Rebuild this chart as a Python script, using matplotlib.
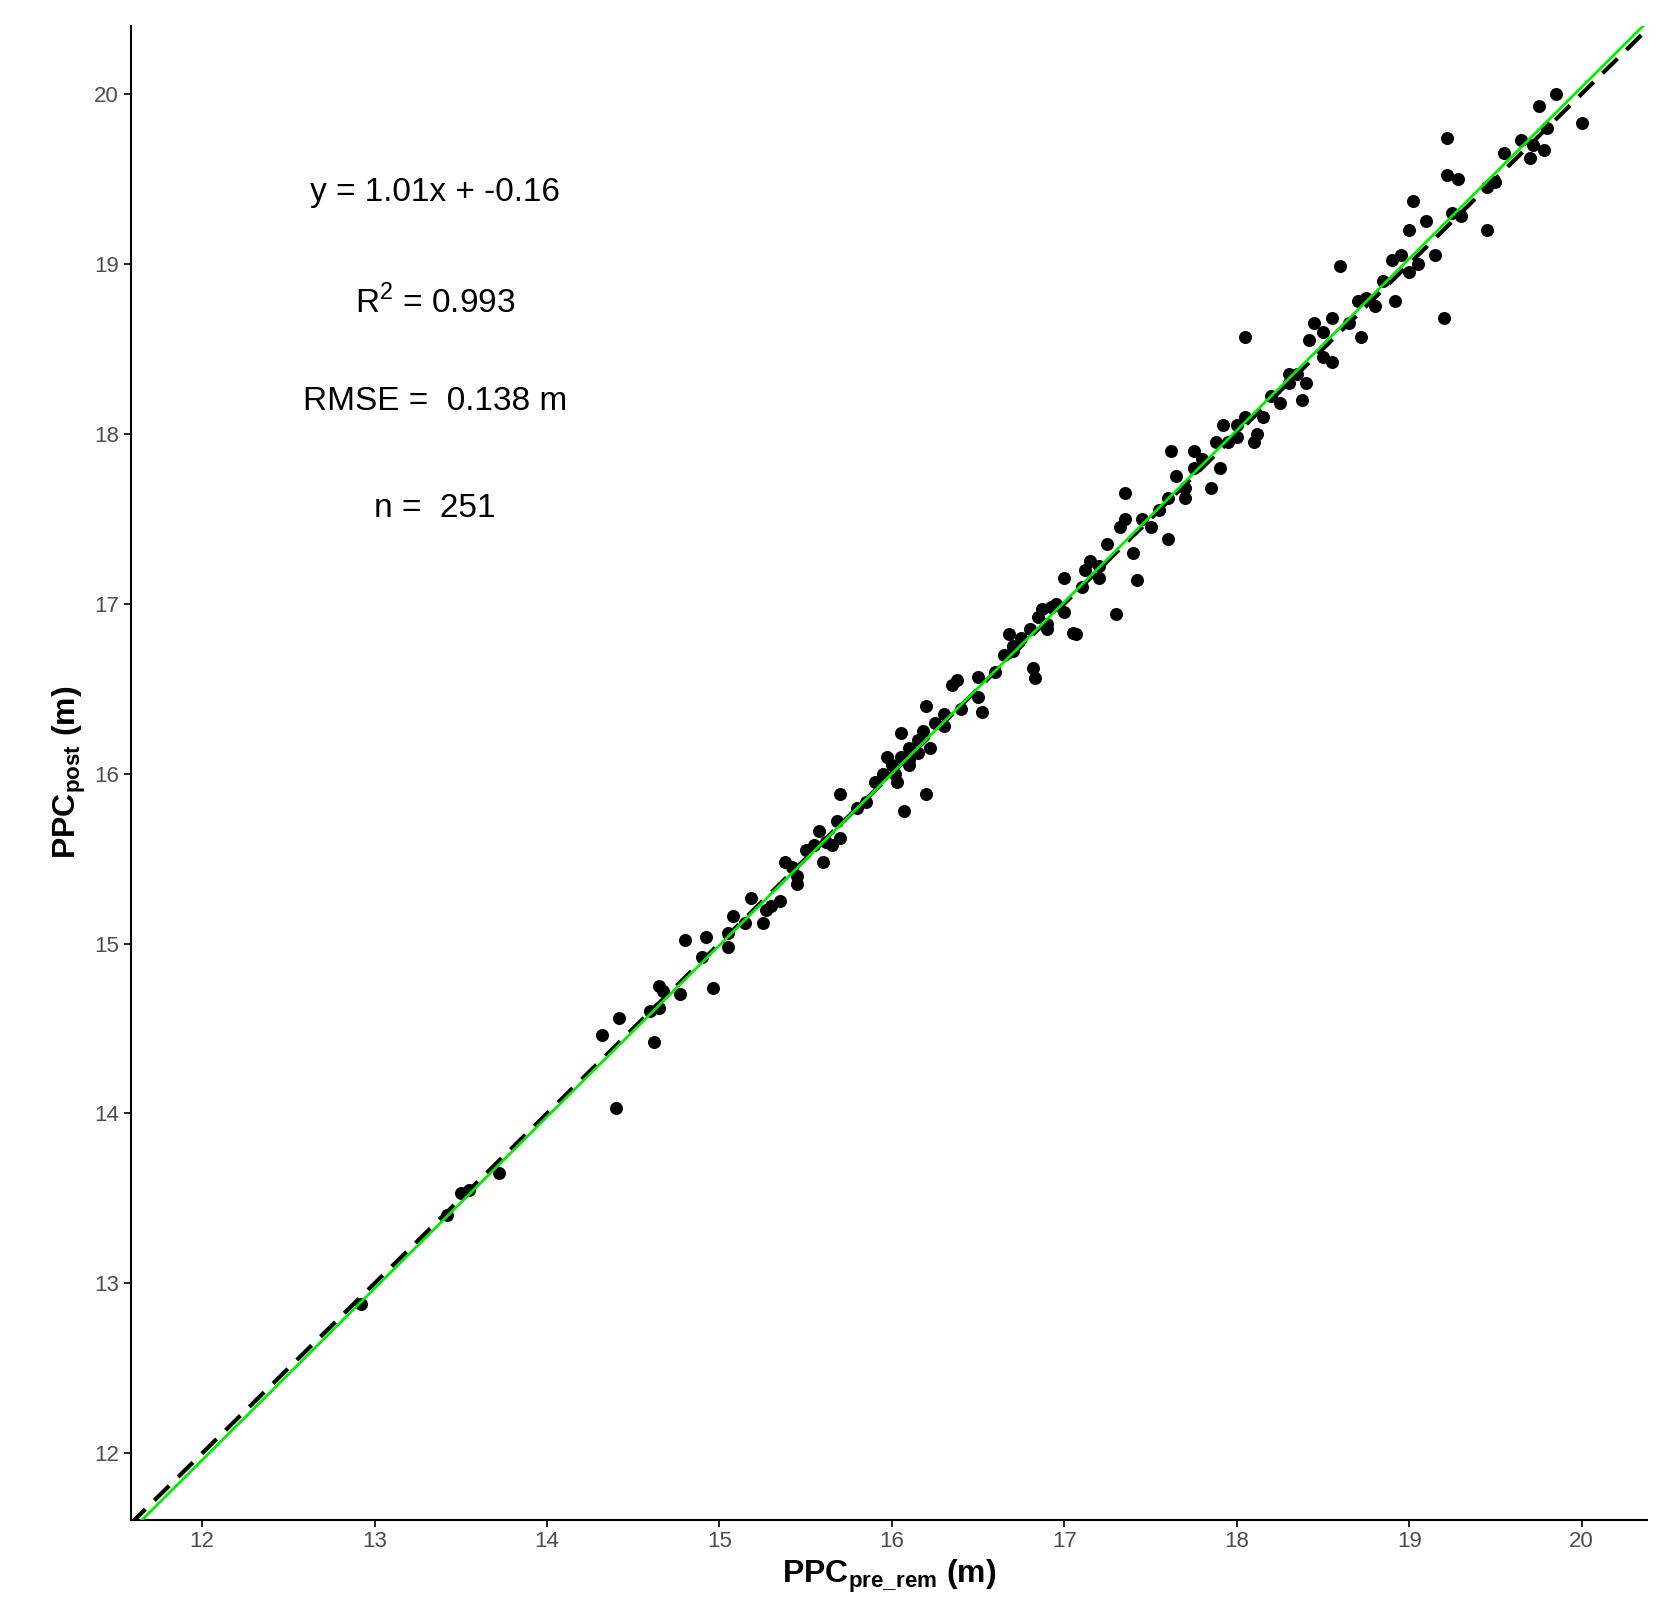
import matplotlib
matplotlib.use("Agg")
import matplotlib.pyplot as plt
import numpy as np

plt.rcParams['font.family'] = ['Liberation Sans', 'DejaVu Sans']
plt.rcParams['mathtext.fontset'] = 'custom'
plt.rcParams['mathtext.rm'] = 'Liberation Sans'
plt.rcParams['mathtext.bf'] = 'Liberation Sans:bold'

x_vals = [12.92,13.42,13.5,13.55,13.72,14.32,14.42,14.4,14.6,14.65,14.62,14.65,14.67,14.77,14.8,14.9,14.92,14.96,15.05,15.05,15.08,15.15,15.18,15.25,15.27,15.3,15.35,15.38,15.42,15.45,15.45,15.5,15.55,15.58,15.6,15.62,15.65,15.68,15.7,15.7,15.8,15.9,15.95,15.97,16.0,16.02,16.03,16.05,16.05,16.07,16.1,16.1,16.15,16.15,16.18,16.2,16.2,16.22,16.25,16.3,16.35,16.38,16.4,16.5,16.5,16.52,16.6,16.65,16.68,16.7,16.75,16.8,16.82,16.83,16.85,16.87,16.9,16.92,16.95,17.0,17.0,17.05,17.07,17.1,17.12,17.15,17.2,17.25,17.3,17.32,17.35,17.35,17.4,17.42,17.45,17.5,17.55,17.6,17.62,17.65,17.7,17.7,17.75,17.75,17.8,17.85,17.88,17.9,17.92,17.95,18.0,18.05,18.05,18.1,18.12,18.15,18.2,18.25,18.3,18.35,18.38,18.4,18.42,18.45,18.5,18.55,18.55,18.6,18.65,18.7,18.72,18.75,18.8,18.85,18.9,18.92,18.95,19.0,19.02,19.05,19.1,19.15,19.2,19.22,19.22,19.25,19.28,19.3,19.45,19.5,19.55,19.65,19.7,19.72,19.75,19.8,19.85,20.0,19.78,19.45,19.0,18.5,18.3,18.0,17.6,17.2,16.9,16.7,16.3,16.1,15.85]
y_vals = [12.88,13.40,13.53,13.55,13.65,14.46,14.56,14.03,14.6,14.75,14.42,14.62,14.72,14.7,15.02,14.92,15.04,14.74,14.98,15.06,15.16,15.12,15.27,15.12,15.2,15.22,15.25,15.48,15.45,15.35,15.4,15.55,15.58,15.66,15.48,15.6,15.58,15.72,15.88,15.62,15.8,15.95,16.0,16.1,16.05,16.0,15.95,16.24,16.1,15.78,16.05,16.15,16.2,16.12,16.25,16.4,15.88,16.15,16.3,16.35,16.52,16.55,16.38,16.45,16.57,16.36,16.6,16.7,16.82,16.75,16.8,16.85,16.62,16.56,16.92,16.97,16.88,16.98,17.0,17.15,16.95,16.83,16.82,17.1,17.2,17.25,17.22,17.35,16.94,17.45,17.65,17.5,17.3,17.14,17.5,17.45,17.55,17.38,17.9,17.75,17.62,17.68,17.9,17.8,17.85,17.68,17.95,17.8,18.05,17.95,18.05,18.57,18.1,17.95,18.0,18.1,18.22,18.18,18.35,18.35,18.2,18.3,18.55,18.65,18.6,18.42,18.68,18.99,18.65,18.78,18.57,18.8,18.75,18.9,19.02,18.78,19.05,19.2,19.37,19.0,19.25,19.05,18.68,19.74,19.52,19.3,19.5,19.28,19.2,19.48,19.65,19.73,19.62,19.7,19.93,19.8,20.0,19.83,19.67,19.45,18.95,18.45,18.3,17.98,17.62,17.15,16.85,16.72,16.28,16.08,15.83]
slope, intercept = 1.01, -0.16
x_ticks = [12, 13, 14, 15, 16, 17, 18, 19, 20]

fig = plt.figure(figsize=(16.74, 16.2), dpi=100)
ax = fig.add_axes([0.078, 0.062, 0.906, 0.922])
xmin, xmax, ymin, ymax = 11.585, 20.38, 11.61, 20.40
ax.set_xlim(xmin, xmax); ax.set_ylim(ymin, ymax)
ax.scatter(x_vals, y_vals, s=70, color="black", zorder=3)
xx = np.array([xmin, xmax])
ax.plot(xx, slope*xx+intercept, color="#00ee00", lw=2, zorder=4)
ax.plot(xx, xx, color="black", lw=3, ls=(0, (5, 3)), zorder=2)
for s in ["top", "right"]:
    ax.spines[s].set_visible(False)
for s in ["left", "bottom"]:
    ax.spines[s].set_linewidth(1.5)
ax.set_xticks(x_ticks); ax.set_yticks(x_ticks)
ax.tick_params(labelsize=16, labelcolor="#4d4d4d", length=5, width=1.2)
ax.set_xlabel(r"$\mathbf{PPC_{pre\_rem}}$ $\mathbf{(m)}$", fontsize=23)
ax.set_ylabel(r"$\mathbf{PPC_{post}}$ $\mathbf{(m)}$", fontsize=23)
tx = 13.35
ax.text(tx, 19.42, "y = 1.01x + -0.16", fontsize=24, ha="center", va="center")
ax.text(tx, 18.77, r"R$^2$ = 0.993", fontsize=24, ha="center", va="center")
ax.text(tx, 18.19, "RMSE =  0.138 m", fontsize=24, ha="center", va="center")
ax.text(tx, 17.56, "n =  251", fontsize=24, ha="center", va="center")
fig.savefig("out.png", dpi=100)
